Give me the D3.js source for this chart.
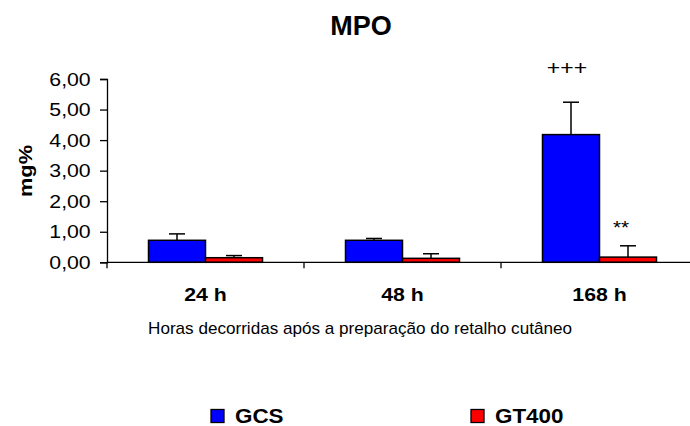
<!DOCTYPE html>
<html>
<head>
<meta charset="utf-8">
<script src="https://cdn.jsdelivr.net/npm/d3@7"></script>
<style>
  body { margin: 0; background: #fff; }
  svg { display: block; }
  text { font-family: "Liberation Sans", Arial, sans-serif; fill: #000; }
</style>
</head>
<body>
<div id="chart"></div>
<script>
// chart values
const categories = ['24 h', '48 h', '168 h'];
const seriesNames = ['GCS', 'GT400'];
const seriesColors = ['#0000ff', '#ff0000'];
const gcsValues = [0.72, 0.72, 4.18];
const gcsErrors = [0.21, 0.06, 1.06];
const gt400Values = [0.15, 0.13, 0.17];
const gt400Errors = [0.07, 0.15, 0.37];
const yTicks = [0, 1, 2, 3, 4, 5, 6];
const marks = [
  { cat: '168 h', series: 'GCS', label: '+++' },
  { cat: '168 h', series: 'GT400', label: '**' },
];

const width = 690;
const height = 426;

const svg = d3.select('#chart').append('svg')
  .attr('width', width)
  .attr('height', height);

const x = d3.scaleBand()
  .domain(categories)
  .range([107, 698]);

const xInner = d3.scaleBand()
  .domain(seriesNames)
  .range([0, x.bandwidth()])
  .paddingOuter(0.728)
  .paddingInner(0);

const y = d3.scaleLinear()
  .domain([0, 6])
  .range([262.3, 79]);

const rows = [];
categories.forEach((c, i) => {
  rows.push({ cat: c, series: 'GCS', value: gcsValues[i], err: gcsErrors[i] });
  rows.push({ cat: c, series: 'GT400', value: gt400Values[i], err: gt400Errors[i] });
});

// text helper, the picture's text is a bit wider than plain Arial
function sText(g, tx, ty, str, size, weight, anchor, rotate, stretch) {
  const sx = stretch || 1.15;
  return g.append('text')
    .attr('transform', `translate(${tx},${ty})${rotate ? ` rotate(${rotate})` : ''} scale(${sx},1)`)
    .attr('text-anchor', anchor || 'middle')
    .style('font-size', `${size}px`)
    .style('font-weight', weight || 'normal')
    .text(str);
}

// title
svg.append('text')
  .attr('x', 361)
  .attr('y', 35)
  .attr('text-anchor', 'middle')
  .style('font-size', '27px')
  .style('font-weight', 'bold')
  .text('MPO');

// y axis
const yAxisG = svg.append('g')
  .attr('transform', 'translate(107,0)')
  .call(d3.axisLeft(y).tickValues(yTicks).tickSize(7).tickFormat(''));
yAxisG.select('.domain').attr('stroke', '#000').attr('stroke-width', 1.3);
yAxisG.selectAll('.tick line').attr('stroke', '#000').attr('stroke-width', 1.3);
yTicks.forEach((d) => {
  sText(svg, 90.7, y(d) + 6.5, d3.format('.2f')(d).replace('.', ','), 18.5, 'normal', 'end');
});

// y label
sText(svg, 32, 171, 'mg%', 19, 'bold', 'middle', -90);

// bars
svg.append('g').selectAll('rect')
  .data(rows)
  .join('rect')
  .attr('x', (d) => x(d.cat) + xInner(d.series))
  .attr('y', (d) => y(d.value))
  .attr('width', xInner.bandwidth())
  .attr('height', (d) => y(0) - y(d.value))
  .attr('fill', (d) => seriesColors[seriesNames.indexOf(d.series)])
  .attr('stroke', '#000')
  .attr('stroke-width', 1.5);

// error bars
const cxOf = (d) => x(d.cat) + xInner(d.series) + xInner.bandwidth() / 2;
const errG = svg.append('g').attr('stroke', '#000').attr('stroke-width', 1.5);
errG.selectAll('line.v')
  .data(rows)
  .join('line')
  .attr('class', 'v')
  .attr('x1', cxOf)
  .attr('x2', cxOf)
  .attr('y1', (d) => y(d.value))
  .attr('y2', (d) => y(d.value + d.err));
errG.selectAll('line.cap')
  .data(rows)
  .join('line')
  .attr('class', 'cap')
  .attr('x1', (d) => cxOf(d) - 8)
  .attr('x2', (d) => cxOf(d) + 8)
  .attr('y1', (d) => y(d.value + d.err))
  .attr('y2', (d) => y(d.value + d.err));

// x axis: ticks between categories
const xAxisG = svg.append('g');
xAxisG.append('line')
  .attr('x1', 107).attr('x2', 698)
  .attr('y1', y(0)).attr('y2', y(0))
  .attr('stroke', '#000').attr('stroke-width', 1.3);
xAxisG.selectAll('line.tick')
  .data(categories)
  .join('line')
  .attr('class', 'tick')
  .attr('x1', (d) => x(d))
  .attr('x2', (d) => x(d))
  .attr('y1', y(0))
  .attr('y2', y(0) + 6)
  .attr('stroke', '#000').attr('stroke-width', 1.3);
categories.forEach((c) => {
  sText(svg, x(c) + x.bandwidth() / 2, 301, c, 18.5, 'bold');
});

// x title
sText(svg, 360, 334, 'Horas decorridas após a preparação do retalho cutâneo', 16, 'normal', 'middle', null, 1.07);

// significance marks
marks.forEach((m) => {
  const r = rows.find((d) => d.cat === m.cat && d.series === m.series);
  if (m.label === '+++') {
    sText(svg, cxOf(r) - 4, 75, m.label, 20, 'normal');
  } else {
    sText(svg, cxOf(r) - 7, 234, m.label, 18, 'normal');
  }
});

// legend
const legendX = [211, 471];
seriesNames.forEach((s, i) => {
  svg.append('rect')
    .attr('x', legendX[i])
    .attr('y', 409.5)
    .attr('width', 13)
    .attr('height', 13)
    .attr('fill', seriesColors[i])
    .attr('stroke', '#000')
    .attr('stroke-width', 1.3);
  sText(svg, legendX[i] + 24, 422.5, s, 19.5, 'bold', 'start');
});
</script>
</body>
</html>
